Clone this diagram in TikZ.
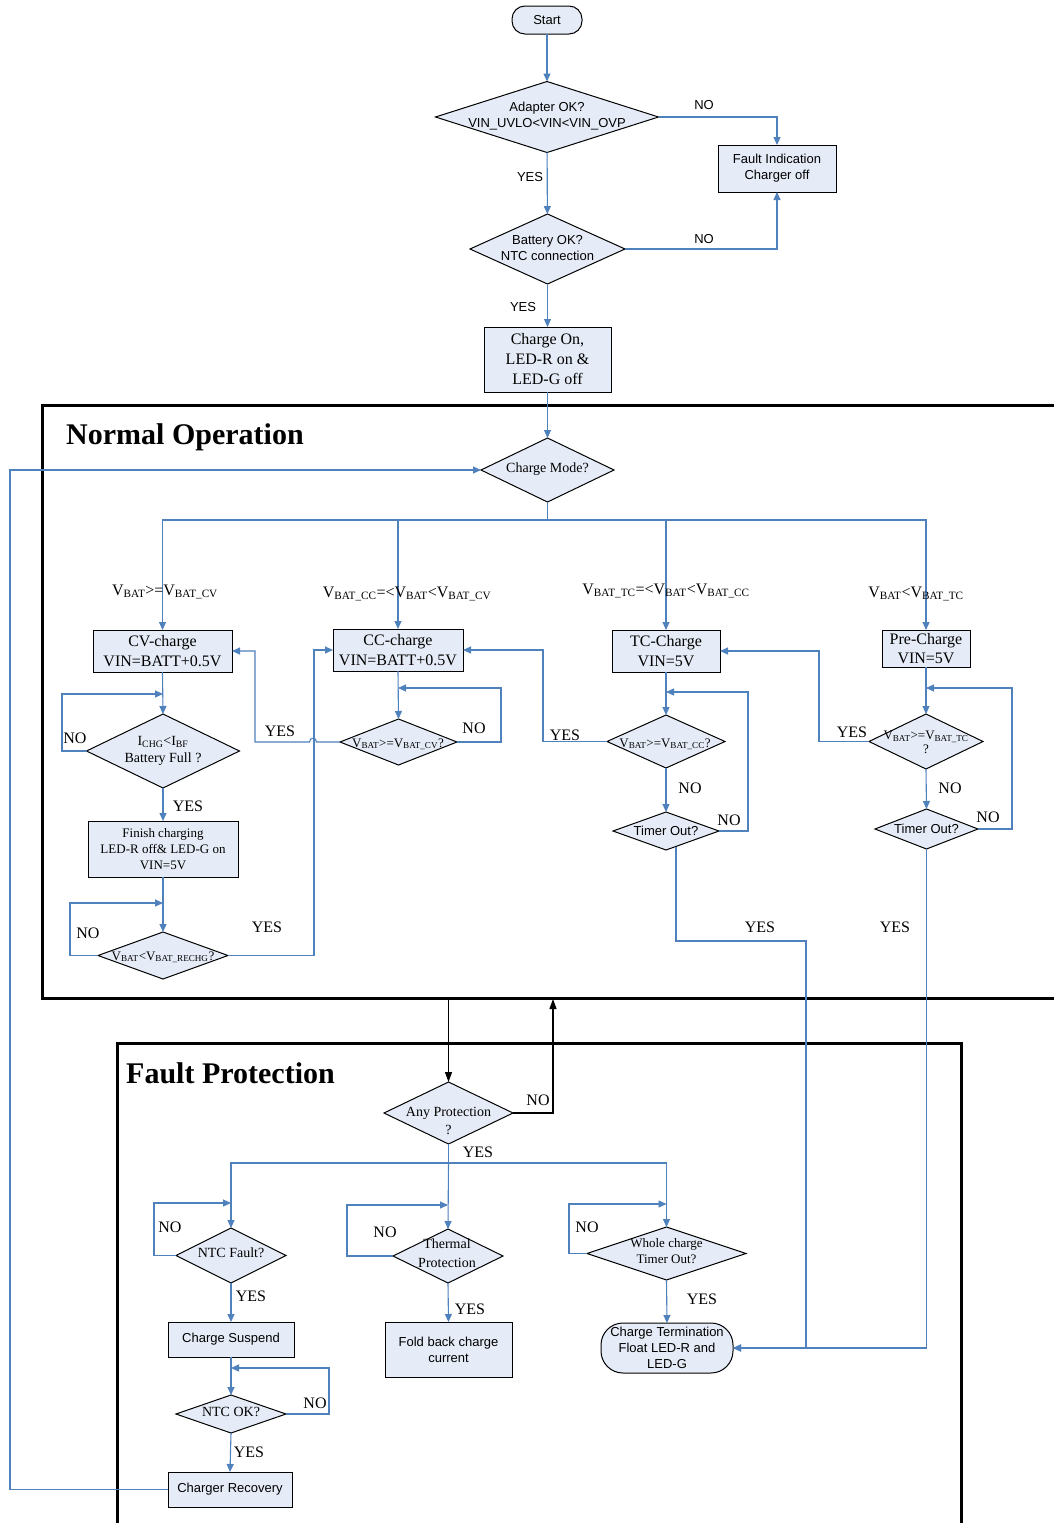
\documentclass[tikz,border=0pt]{standalone}
\usepackage{fontspec}
\setmainfont{Liberation Serif}
\newfontfamily\arialf{Liberation Sans}
\usetikzlibrary{shapes.geometric,arrows.meta}
\definecolor{cblue}{RGB}{79,129,189}
\definecolor{boxfill}{RGB}{230,236,247}
\newcommand\szS{\fontsize{13}{16}\selectfont}
\newcommand\szM{\fontsize{14}{18}\selectfont}
\newcommand\szL{\fontsize{16}{20}\selectfont}
\newcommand\szH{\fontsize{30}{34}\selectfont}
\newcommand\sbs[1]{\textsubscript{#1}}
\begin{document}
\begin{tikzpicture}[x=1pt,y=-1pt,
 conn/.style={cblue, line width=1.1pt, -{Triangle[length=8pt,width=7pt]}},
 bline/.style={cblue, line width=1.1pt},
 blk/.style={black, line width=1.2pt, -{Triangle[length=10pt,width=7pt]}},
 box/.style={draw, fill=boxfill, line width=1pt, inner sep=1pt, outer sep=0pt, align=center},
 rbox/.style={box, rounded corners=13pt},
 dia/.style={draw, fill=boxfill, shape=diamond, line width=1pt, inner sep=0pt, outer sep=0pt},
 frm/.style={line width=3pt, black},
 ynA/.style={font=\arialf\szS, inner sep=0pt},
 yn/.style={font=\szL, inner sep=0pt},
 dtA/.style={font=\arialf\szS, align=center, inner sep=0pt},
 dtS/.style={font=\szS, align=center, inner sep=0pt},
 dtM/.style={font=\szM, align=center, inner sep=0pt},
]
\fill[white] (0,0) rectangle (1053,1523);
\useasboundingbox (0,0) rectangle (1053,1523);

% frames
\draw[frm] (1075,405) -- (42,405) -- (42,998) -- (1075,998);
\draw[frm] (117,1535) -- (117,1043) -- (961,1043) -- (961,1535);
\node[font=\bfseries\szH, anchor=west, inner sep=0pt] (tNO) at (66,437) {Normal Operation};
\node[font=\bfseries\szH, anchor=west, inner sep=0pt] (tFP) at (126,1073) {Fault Protection};

% top part
\node[rbox, minimum width=70pt, minimum height=28pt, font=\arialf\szS] (start) at (547,20) {Start};
\node[dia, minimum width=223pt, minimum height=71pt] (adapt) at (547,117) {};
\node[dtA] (adaptT) at (547,116) {Adapter OK?\\VIN\_UVLO<VIN<VIN\_OVP};
\node[box, minimum width=118pt, minimum height=47pt, font=\arialf\szS] (fault) at (777,168.5) {Fault Indication\\Charger off};
\node[dia, minimum width=155pt, minimum height=70pt] (batt) at (547.5,249) {};
\node[dtA] (battT) at (547.5,248) {Battery OK?\\NTC connection};
\node[box, minimum width=127pt, minimum height=65pt, font=\szL] (chon) at (547.5,359.5) {Charge On,\\LED-R on \&\\LED-G off};

\node[ynA] (y1) at (704,105) {NO};
\node[ynA] (y2) at (530,177) {YES};
\node[ynA] (y3) at (704,239) {NO};
\node[ynA] (y4) at (523,307) {YES};

\draw[conn] (start) -- (adapt);
\draw[conn] (adapt.east) -| (fault.north);
\draw[conn] (adapt) -- (batt);
\draw[conn] (batt.east) -| (fault.south);
\draw[conn] (batt) -- (chon);

% normal operation
\node[dia, minimum width=133pt, minimum height=64pt] (mode) at (547.5,470) {};
\node[dtM] (modeT) at (547.5,469) {Charge Mode?};
\draw[conn] (chon) -- (mode);
\coordinate (bus) at (547.5,520);
\draw[bline] (mode.south) -- (bus);

\node[box, minimum width=139pt, minimum height=42pt, font=\szL] (cv) at (162.5,651) {CV-charge\\VIN=BATT+0.5V};
\node[box, minimum width=130pt, minimum height=42pt, font=\szL] (cc) at (398,650) {CC-charge\\VIN=BATT+0.5V};
\node[box, minimum width=108pt, minimum height=42pt, font=\szL] (tc) at (666,651) {TC-Charge\\VIN=5V};
\node[box, minimum width=88pt, minimum height=37pt, font=\fontsize{16}{19}\selectfont] (pre) at (926,648.5) {Pre-Charge\\VIN=5V};

\draw[conn] (bus) -| (cv.north);
\draw[conn] (bus) -| (cc.north);
\draw[conn] (bus) -| (tc.north);
\draw[conn] (bus) -| (pre.north);

\node[font=\szL, inner sep=0pt, anchor=base] (lcv) at (165,595) {V\sbs{BAT}>=V\sbs{BAT\_CV}};
\node[font=\szL, inner sep=0pt, anchor=base] (lcc) at (407,597) {V\sbs{BAT\_CC}=<V\sbs{BAT}<V\sbs{BAT\_CV}};
\node[font=\szL, inner sep=0pt, anchor=base] (ltc) at (666,594) {V\sbs{BAT\_TC}=<V\sbs{BAT}<V\sbs{BAT\_CC}};
\node[font=\szL, inner sep=0pt, anchor=base] (lpr) at (916,597) {V\sbs{BAT}<V\sbs{BAT\_TC}};

% CV branch
\node[dia, minimum width=153pt, minimum height=74pt] (bf) at (163,751) {};
\node[font=\fontsize{14}{17}\selectfont, align=center, inner sep=0pt] (bfT) at (163,751) {I\sbs{CHG}<I\sbs{BF}\\Battery Full ?};
\node[box, minimum width=150pt, minimum height=56pt, font=\szS] (fin) at (163,849) {Finish charging\\LED-R off\& LED-G on\\VIN=5V};
\node[dia, minimum width=130pt, minimum height=47pt] (rech) at (163,955.5) {};
\node[font=\szS, inner sep=0pt, anchor=base] (rechT) at (163,960) {V\sbs{BAT}<V\sbs{BAT\_RECHG}?};
\coordinate (cvj) at (163,694);
\coordinate (rj) at (163,903);
\draw[conn] (cv.south) -- (bf.north);
\draw[conn] (bf.west) -- (62,751) |- (cvj);
\draw[conn] (bf.south) -- (fin.north);
\draw[conn] (fin.south) -- (rech.north);
\draw[conn] (rech.west) -- (70,955.5) |- (rj);
\draw[conn] (rech.east) -- (314,955.5) |- (cc.west);
\node[yn] (n1) at (75,738) {NO};
\node[yn] (n2) at (188,806) {YES};
\node[yn] (n3) at (88,933) {NO};
\node[yn] (n4) at (267,927) {YES};

% CC branch
\node[dia, minimum width=117pt, minimum height=46pt] (vcv) at (398.5,742) {};
\node[font=\szS, inner sep=0pt, anchor=base] (vcvT) at (398,747) {V\sbs{BAT}>=V\sbs{BAT\_CV}?};
\coordinate (ccj) at (398,688);
\draw[conn] (cc.south) -- (vcv.north);
\draw[conn] (vcv.east) -- (501,742) |- (ccj);
\draw[conn] (vcv.west) -- (316.5,742) .. controls (316.5,737) and (309.5,737) .. (309.5,742) -- (255,742) |- (cv.east);
\node[yn] (n5) at (280,731) {YES};
\node[yn] (n6) at (474,728) {NO};

% TC branch
\node[dia, minimum width=118pt, minimum height=53pt] (vcc) at (666,741.5) {};
\node[font=\szS, inner sep=0pt, anchor=base] (vccT) at (665,747) {V\sbs{BAT}>=V\sbs{BAT\_CC}?};
\node[dia, minimum width=106pt, minimum height=38pt] (tm1) at (666,831) {};
\node[dtA] (tm1T) at (666,831) {Timer Out?};
\coordinate (tcj) at (666,692);
\draw[conn] (tc.south) -- (vcc.north);
\draw[conn] (vcc.west) -- (543,741.5) |- (cc.east);
\draw[conn] (vcc.south) -- (tm1.north);
\draw[conn] (tm1.east) -- (748,831) |- (tcj);
\node[yn] (n7) at (565,735) {YES};
\node[yn] (n8) at (690,788) {NO};
\node[yn] (n9) at (729,820) {NO};

% Pre branch
\node[dia, minimum width=114pt, minimum height=55pt] (vtc) at (926,741.5) {};
\node[font=\fontsize{13}{14}\selectfont, align=center, inner sep=0pt] (vtcT) at (926,742) {V\sbs{BAT}>=V\sbs{BAT\_TC}\\?};
\node[dia, minimum width=103pt, minimum height=40pt] (tm2) at (926.5,829) {};
\node[dtA] (tm2T) at (926.5,829) {Timer Out?};
\coordinate (pj) at (926,688);
\draw[conn] (pre.south) -- (vtc.north);
\draw[conn] (vtc.west) -- (819,741.5) |- (tc.east);
\draw[conn] (vtc.south) -- (tm2.north);
\draw[conn] (tm2.east) -- (1012,829) |- (pj);
\node[yn] (n10) at (852,732) {YES};
\node[yn] (n11) at (950,788) {NO};
\node[yn] (n12) at (988,817) {NO};
\node[yn] (n13) at (760,927) {YES};
\node[yn] (n14) at (895,927) {YES};

% fault protection
\node[dia, minimum width=129pt, minimum height=62pt] (anyp) at (448.5,1113) {};
\node[font=\fontsize{14}{18}\selectfont, align=center, inner sep=0pt] (anypT) at (448.5,1121) {Any Protection\\?};
\coordinate (nbot) at (448.5,998);
\draw[blk] (nbot) -- (anyp.north);
\draw[blk] (anyp.east) -- (553,1113) -- (553,999);
\node[yn] (n15) at (538,1100) {NO};
\node[yn] (n16) at (478,1152) {YES};
\coordinate (fbus) at (448.5,1163);
\draw[bline] (anyp.south) -- (fbus);

\node[dia, minimum width=110pt, minimum height=55pt] (ntcf) at (231,1255.5) {};
\node[dtM] (ntcfT) at (231,1253) {NTC Fault?};
\node[box, minimum width=126pt, minimum height=35pt, font=\arialf\szS] (susp) at (231,1339.5) {Charge Suspend};
\node[dia, minimum width=110pt, minimum height=38pt] (ntcok) at (231,1414) {};
\node[dtM] (ntcokT) at (231,1412) {NTC OK?};
\node[box, minimum width=124pt, minimum height=35pt, font=\arialf\szS] (rec) at (230,1489.5) {Charger Recovery};

\node[dia, minimum width=110pt, minimum height=54pt] (therm) at (448,1256) {};
\node[dtM, font=\fontsize{14}{19}\selectfont] (thermT) at (447,1253) {Thermal\\Protection};
\node[box, minimum width=127pt, minimum height=55pt, font=\arialf\szS] (fold) at (448.5,1349.5) {Fold back charge\\current};

\node[dia, minimum width=159pt, minimum height=53pt] (whole) at (666.5,1253.5) {};
\node[dtS] (wholeT) at (666.5,1251) {Whole charge\\Timer Out?};
\node[box, rounded corners=22pt, inner sep=0pt, minimum width=132pt, minimum height=50pt, font=\arialf\szS] (term) at (667,1348) {Charge Termination\\Float LED-R and\\LED-G};

\coordinate (nj) at (231,1203);
\coordinate (okj) at (231,1368);
\coordinate (thj) at (448,1205);
\coordinate (wj) at (666.5,1204);
\draw[conn] (fbus) -| (ntcf.north);
\draw[conn] (fbus) -- (therm.north);
\draw[conn] (fbus) -| (whole.north);
\draw[conn] (ntcf.west) -- (154,1255.5) |- (nj);
\draw[conn] (ntcf.south) -- (susp.north);
\draw[conn] (susp.south) -- (ntcok.north);
\draw[conn] (ntcok.east) -- (329,1414) |- (okj);
\draw[conn] (ntcok.south) -- (rec.north);
\draw[conn] (therm.west) -- (347,1256) |- (thj);
\draw[conn] (therm.south) -- (fold.north);
\draw[conn] (whole.west) -- (569,1253.5) |- (wj);
\draw[conn] (whole.south) -- (term.north);

\node[yn] (n17) at (170,1227) {NO};
\node[yn] (n18) at (251,1296) {YES};
\node[yn] (n19) at (315,1403) {NO};
\node[yn] (n20) at (249,1452) {YES};
\node[yn] (n21) at (385,1232) {NO};
\node[yn] (n22) at (470,1309) {YES};
\node[yn] (n23) at (587,1227) {NO};
\node[yn] (n24) at (702,1299) {YES};

% long connectors
\draw[conn] ([xshift=10pt,yshift=3.5pt]tm1.south) -- (676,941) -- (806,941) |- (term.east);
\draw[conn] (tm2.south) |- (term.east);
\draw[conn] (rec.west) -- (10,1489.5) |- (mode.west);
\end{tikzpicture}
\end{document}
